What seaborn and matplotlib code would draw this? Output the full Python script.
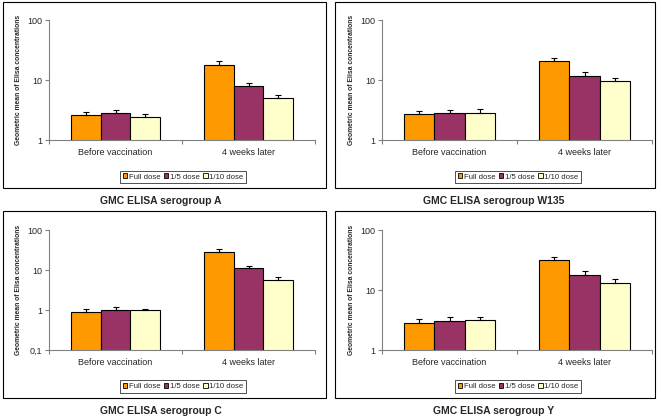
import seaborn as sns
import pandas as pd
import matplotlib.pyplot as plt
from matplotlib.patches import Rectangle, Patch
from matplotlib.ticker import FixedLocator, FixedFormatter, NullLocator

# data
times = ["Before vaccination", "4 weeks later"]
doses = ["Full dose", "1/5 dose", "1/10 dose"]
colors = ["#FF9900", "#993366", "#FFFFCC"]

# values per dose, ordered [before, 4 weeks]
a_mean = [[2.61, 17.8], [2.82, 7.94], [2.42, 5.08]]
a_upper = [[2.89, 20.7], [3.20, 8.9], [2.71, 5.6]]
w_mean = [[2.71, 20.7], [2.82, 11.7], [2.85, 9.5]]
w_upper = [[3.08, 23.3], [3.12, 13.6], [3.29, 10.8]]
c_mean = [[0.91, 28.7], [1.00, 11.0], [1.01, 5.62]]
c_upper = [[1.04, 32.9], [1.19, 12.4], [1.08, 6.7]]
y_mean = [[2.85, 31.2], [3.08, 17.8], [3.12, 13.1]]
y_upper = [[3.24, 35.0], [3.55, 20.7], [3.50, 15.3]]

panels = [
    ("GMC ELISA serogroup A", a_mean, a_upper, [1, 10, 100], ["1", "10", "100"]),
    ("GMC ELISA serogroup W135", w_mean, w_upper, [1, 10, 100], ["1", "10", "100"]),
    ("GMC ELISA serogroup C", c_mean, c_upper, [0.1, 1, 10, 100], ["0,1", "1", "10", "100"]),
    ("GMC ELISA serogroup Y", y_mean, y_upper, [1, 10, 100], ["1", "10", "100"]),
]

sns.set_style("white")
plt.rcParams["font.family"] = ["Liberation Sans", "DejaVu Sans"]

W, H = 662, 419
fig = plt.figure(figsize=(W / 100, H / 100), dpi=100)

# pixel layout: axes box, frame box, title, legend centre, ylabel right edge
layout = [
    dict(ax=(49, 20, 315, 140), frame=(3, 2, 326, 188), title=(161, 201), leg=(183, 177), lab=22),
    dict(ax=(382, 20, 652, 140), frame=(335, 2, 655, 188), title=(494, 201), leg=(518, 177), lab=355),
    dict(ax=(49, 230, 315, 350), frame=(3, 211, 326, 398), title=(161, 411), leg=(183, 386.5), lab=22),
    dict(ax=(382, 230, 652, 350), frame=(335, 211, 655, 398), title=(494, 411), leg=(518, 386.5), lab=355),
]

for (title, means, uppers, yt, ytl), lay in zip(panels, layout):
    x0, y0, x1, y1 = lay["ax"]
    ax = fig.add_axes([x0 / W, 1 - y1 / H, (x1 - x0) / W, (y1 - y0) / H])

    rows = []
    for di, d in enumerate(doses):
        for ti, t in enumerate(times):
            rows.append({"time": t, "dose": d, "gmc": means[di][ti]})
    df = pd.DataFrame(rows)

    ax.set_yscale("log")
    sns.barplot(data=df, x="time", y="gmc", hue="dose", hue_order=doses,
                order=times, palette=colors, saturation=1, edgecolor="black",
                linewidth=0.8, width=0.67, gap=0, errorbar=None, legend=False, ax=ax)

    # upward error bars
    bar_groups = list(ax.containers)
    for di, cont in enumerate(bar_groups):
        for ti, bar in enumerate(cont.patches):
            xc = bar.get_x() + bar.get_width() / 2
            m = means[di][ti]
            ax.errorbar(xc, m, yerr=[[0], [uppers[di][ti] - m]], fmt="none",
                        ecolor="black", elinewidth=0.8, capsize=2.5,
                        capthick=0.8, zorder=5)

    ax.set_ylim(yt[0], yt[-1])
    ax.set_xlim(-0.5, 1.5)
    ax.yaxis.set_major_locator(FixedLocator(yt))
    ax.yaxis.set_major_formatter(FixedFormatter(ytl))
    ax.yaxis.set_minor_locator(NullLocator())
    ax.set_xticks([0, 1])
    ax.set_xticklabels(times)
    ax.set_xticks([-0.5, 0.5, 1.5], minor=True)
    ax.tick_params(axis="x", which="major", length=0, labelsize=6.5, pad=6)
    ax.tick_params(axis="x", which="minor", length=3, width=0.8, color="#808080",
                   direction="out", bottom=True)
    ax.tick_params(axis="y", which="major", length=3, width=0.8, color="#808080",
                   direction="out", left=True, labelsize=6.5, pad=2)
    for s in ["top", "right"]:
        ax.spines[s].set_visible(False)
    for s in ["left", "bottom"]:
        ax.spines[s].set_color("#808080")
        ax.spines[s].set_linewidth(0.8)
    ax.set_xlabel("")
    ax.set_ylabel("Geometric mean of Elisa concentrations", fontsize=4.9,
                  fontweight="bold")
    ax.yaxis.set_label_coords((lay["lab"] - x0) / (x1 - x0), 0.5)

    handles = [Patch(facecolor=c, edgecolor="black", linewidth=0.6) for c in colors]
    lx, ly = lay["leg"]
    leg = ax.legend(handles, doses, loc="center", bbox_to_anchor=(lx / W, 1 - ly / H),
                    bbox_transform=fig.transFigure, ncol=3, fontsize=5.6,
                    frameon=True, fancybox=False, edgecolor="black",
                    handlelength=0.6, handleheight=0.6, handletextpad=0.2,
                    columnspacing=0.4, borderpad=0.35, borderaxespad=0)
    leg.get_frame().set_linewidth(0.6)

    fx0, fy0, fx1, fy1 = lay["frame"]
    fig.add_artist(Rectangle((fx0 / W, 1 - fy1 / H), (fx1 - fx0) / W, (fy1 - fy0) / H,
                             transform=fig.transFigure, fill=False,
                             edgecolor="black", linewidth=0.8))
    tx, ty = lay["title"]
    fig.text(tx / W, 1 - ty / H, title, ha="center", va="center",
             fontsize=7.5, fontweight="bold")

fig.savefig("out.png", dpi=100)
